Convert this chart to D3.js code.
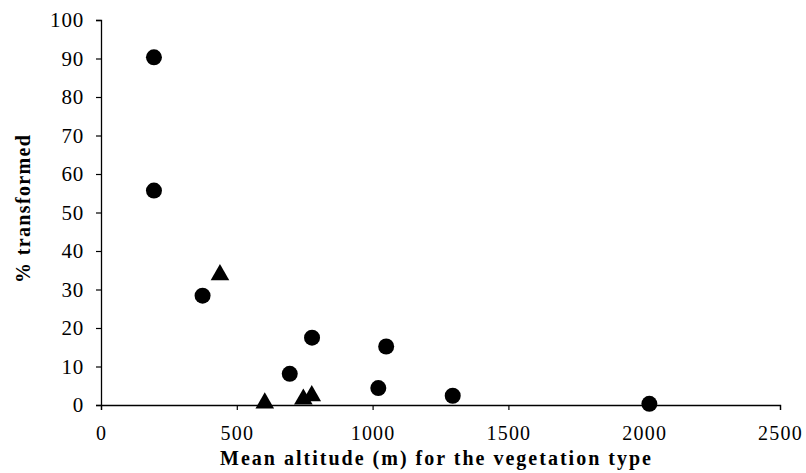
<!DOCTYPE html>
<html>
<head>
<meta charset="utf-8">
<script src="https://cdn.jsdelivr.net/npm/d3@7/dist/d3.min.js"></script>
<style>
  html, body { margin: 0; padding: 0; background: #fff; }
  svg { display: block; }
  text { font-family: "Liberation Serif", "Times New Roman", serif; fill: #000; }
</style>
</head>
<body>
<div id="chart"></div>
<script>
// Vegetation types: mean altitude (m) vs % of area transformed
const circleAltitude = [195, 195, 374, 695, 777, 1021, 1050, 1295, 2019];
const circleTransformed = [90.3, 55.7, 28.4, 8.1, 17.5, 4.4, 15.2, 2.4, 0.3];
const triangleAltitude = [438, 603, 745, 776];
const triangleTransformed = [33.8, 0.5, 1.5, 2.4];

const xTicks = [0, 500, 1000, 1500, 2000, 2500];
const yTicks = [0, 10, 20, 30, 40, 50, 60, 70, 80, 90, 100];

const xTitle = "Mean altitude (m) for the vegetation type";
const yTitle = "% transformed";

const width = 806, height = 473;
const margin = { left: 101, right: 26, top: 20, bottom: 68 };

const svg = d3.select("#chart").append("svg")
  .attr("width", width).attr("height", height);

const x = d3.scaleLinear().domain([0, 2500]).range([margin.left, width - margin.right]);
const y = d3.scaleLinear().domain([0, 100]).range([height - margin.bottom, margin.top]);

// y axis
const yAxis = svg.append("g")
  .attr("transform", `translate(${margin.left},0)`)
  .call(d3.axisLeft(y).tickValues(yTicks).tickSize(5).tickPadding(12).tickFormat(d3.format("d")));
yAxis.select(".domain").attr("stroke", "#000").attr("stroke-width", 1.3);
yAxis.selectAll(".tick line").attr("stroke", "#000").attr("stroke-width", 1.2);
yAxis.selectAll(".tick text").attr("font-size", 21).attr("letter-spacing", 0.8)
  .attr("font-family", "Liberation Serif, serif");

// x axis
const xAxis = svg.append("g")
  .attr("transform", `translate(0,${y(0)})`)
  .call(d3.axisBottom(x).tickValues(xTicks).tickSize(5).tickPadding(16).tickFormat(d3.format("d")));
xAxis.select(".domain").attr("stroke", "#000").attr("stroke-width", 1.3);
xAxis.selectAll(".tick line").attr("stroke", "#000").attr("stroke-width", 1.2);
xAxis.selectAll(".tick text").attr("font-size", 20).attr("letter-spacing", 1.2)
  .attr("font-family", "Liberation Serif, serif");

// circle series
svg.append("g").selectAll("circle")
  .data(circleAltitude.map((a, i) => [a, circleTransformed[i]]))
  .join("circle")
  .attr("cx", d => x(d[0]))
  .attr("cy", d => y(d[1]))
  .attr("r", 8)
  .attr("fill", "#000");

// triangle series
const tri = d3.symbol().type(d3.symbolTriangle).size(150);
svg.append("g").selectAll("path")
  .data(triangleAltitude.map((a, i) => [a, triangleTransformed[i]]))
  .join("path")
  .attr("d", tri)
  .attr("transform", d => `translate(${x(d[0])},${y(d[1])})`)
  .attr("fill", "#000");

// axis titles
svg.append("text")
  .attr("x", 435.5).attr("y", 465)
  .attr("text-anchor", "middle")
  .attr("font-size", 20).attr("font-weight", "bold")
  .attr("textLength", 431).attr("lengthAdjust", "spacing")
  .text(xTitle);

svg.append("text")
  .attr("transform", `translate(30,209) rotate(-90)`)
  .attr("text-anchor", "middle")
  .attr("font-size", 20).attr("font-weight", "bold")
  .attr("textLength", 148).attr("lengthAdjust", "spacing")
  .text(yTitle);
</script>
</body>
</html>
